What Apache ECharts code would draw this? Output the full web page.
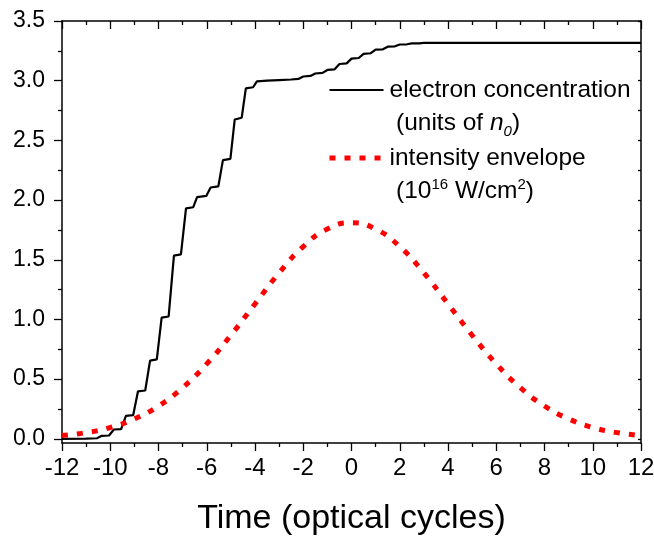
<!DOCTYPE html>
<html>
<head>
<meta charset="utf-8">
<script src="https://cdn.jsdelivr.net/npm/echarts@6/dist/echarts.min.js"></script>
<style>html,body{margin:0;padding:0;background:#fff}#c{width:654px;height:537px}</style>
</head>
<body>
<div id="c"></div>
<script>
// Electron concentration (units of n0) vs time (optical cycles)
var electronT = [-12, -11, -10.55, -10.35, -10.05, -9.85, -9.55, -9.35, -9.05, -8.85, -8.55, -8.35,
  -8.07, -7.87, -7.58, -7.36, -7.07, -6.86, -6.56, -6.40, -6.02, -5.84, -5.52, -5.33, -5.02, -4.84,
  -4.55, -4.38, -4.08, -3.92, -3.5, -3.0, -2.5, -2.2, -2.0, -1.7, -1.5, -1.2, -1.0, -0.7, -0.5,
  -0.2, 0.0, 0.3, 0.5, 0.8, 1.0, 1.3, 1.5, 1.8, 2.0, 2.3, 2.5, 2.8, 3.0, 3.5, 12];
var electronV = [0, 0.002, 0.005, 0.025, 0.028, 0.078, 0.082, 0.192, 0.198, 0.398, 0.405, 0.655,
  0.665, 1.015, 1.025, 1.535, 1.545, 1.93, 1.94, 2.025, 2.035, 2.105, 2.115, 2.335, 2.345, 2.675,
  2.69, 2.935, 2.945, 2.995, 3.0, 3.005, 3.01, 3.015, 3.035, 3.04, 3.06, 3.065, 3.09, 3.095, 3.14,
  3.145, 3.185, 3.19, 3.225, 3.23, 3.26, 3.263, 3.285, 3.288, 3.303, 3.305, 3.312, 3.313, 3.316, 3.317, 3.317];
// Intensity envelope (10^16 W/cm^2)
var intensityT = [-12, -11, -10, -9, -8, -7, -6, -5, -4, -3, -2, -1, 0, 1, 2, 3, 4, 5, 6, 7, 8, 9, 10, 11, 12];
var intensityV = [0.027, 0.052, 0.095, 0.167, 0.275, 0.428, 0.628, 0.868, 1.13, 1.39, 1.61, 1.757, 1.81,
  1.757, 1.61, 1.39, 1.13, 0.868, 0.628, 0.428, 0.275, 0.167, 0.095, 0.052, 0.027];
var yMajorTicks = [0, 0.5, 1.0, 1.5, 2.0, 2.5, 3.0, 3.5];
var yMinorTicks = [0.25, 0.75, 1.25, 1.75, 2.25, 2.75, 3.25];
var yAllTicks = [0, 0.25, 0.5, 0.75, 1.0, 1.25, 1.5, 1.75, 2.0, 2.25, 2.5, 2.75, 3.0, 3.25, 3.5];
var seriesNames = ['electron concentration', 'intensity envelope'];

var FONT = '"Liberation Sans", Arial, sans-serif';
var chart = echarts.init(document.getElementById('c'), null, {renderer: 'canvas'});
var axisLine = {show: true, onZero: false, lineStyle: {color: '#000', width: 1.5}};

function pairs(t, v) { return t.map(function (x, i) { return [x, v[i]]; }); }

chart.setOption({
  animation: false,
  backgroundColor: '#fff',
  grid: {left: 62, right: 13, top: 21, bottom: 94, outerBoundsMode: 'none', containLabel: false},
  xAxis: [{
    type: 'value', min: -12, max: 12, interval: 2, position: 'bottom',
    axisLine: axisLine,
    axisTick: {show: true, length: 8, inside: false, lineStyle: {color: '#000', width: 1.3}},
    minorTick: {show: true, splitNumber: 2, length: 4, lineStyle: {color: '#000', width: 1.3}},
    splitLine: {show: false}, minorSplitLine: {show: false},
    axisLabel: {fontSize: 24, fontFamily: FONT, color: '#000', margin: 13},
    name: 'Time (optical cycles)', nameLocation: 'middle', nameGap: 59,
    nameTextStyle: {fontSize: 34, fontFamily: FONT, color: '#000'}
  }, {
    type: 'value', min: -12, max: 12, interval: 2, position: 'top',
    axisLine: axisLine,
    axisTick: {show: true, length: 8, inside: true, lineStyle: {color: '#000', width: 1.3}},
    minorTick: {show: true, splitNumber: 2, length: 4, lineStyle: {color: '#000', width: 1.3}},
    splitLine: {show: false}, minorSplitLine: {show: false},
    axisLabel: {show: false}
  }],
  yAxis: [{
    type: 'value', min: -0.035, max: 3.5, position: 'left',
    axisLine: axisLine,
    axisTick: {show: true, length: 8, inside: false, customValues: yMajorTicks, lineStyle: {color: '#000', width: 1.3}},
    splitLine: {show: false},
    axisLabel: {customValues: yMajorTicks, fontSize: 23, fontFamily: FONT, color: '#000', margin: 17,
      formatter: function (v) { return v.toFixed(1); }}
  }, {
    type: 'value', min: -0.035, max: 3.5, position: 'left',
    axisLine: {show: false, onZero: false},
    axisTick: {show: true, length: 4, inside: false, customValues: yMinorTicks, lineStyle: {color: '#000', width: 1.3}},
    splitLine: {show: false},
    axisLabel: {show: false, customValues: yMinorTicks}
  }, {
    type: 'value', min: -0.035, max: 3.5, position: 'right',
    axisLine: axisLine,
    axisTick: {show: true, length: 3, inside: true, customValues: yAllTicks, lineStyle: {color: '#000', width: 1.3}},
    splitLine: {show: false},
    axisLabel: {show: false, customValues: yAllTicks}
  }],
  legend: {
    orient: 'vertical', left: 327, top: 76, padding: 0,
    itemWidth: 54, itemHeight: 14, itemGap: 40,
    itemStyle: {opacity: 0},
    lineStyle: {width: 5},
    textStyle: {fontSize: 24.5, fontFamily: FONT, color: '#000', lineHeight: 28, padding: [0, 0, 0, 1]},
    data: [{name: seriesNames[0], lineStyle: {width: 2.2}}, {name: seriesNames[1], lineStyle: {width: 5}}]
  },
  graphic: [{
    type: 'text', left: 396, top: 111,
    style: {
      text: '(units of {it|n}{sub|0})',
      font: '24.5px ' + FONT, fill: '#000',
      rich: {
        it: {fontSize: 24.5, fontStyle: 'italic', fontFamily: FONT},
        sub: {fontSize: 15, fontStyle: 'italic', fontFamily: FONT, padding: [16, 0, 0, 0]}
      }
    }
  }, {
    type: 'text', left: 396, top: 177,
    style: {
      text: '(10{sup|16} W/cm{sup|2})',
      font: '24.5px ' + FONT, fill: '#000',
      rich: {
        sup: {fontSize: 15, fontFamily: FONT, padding: [0, 0, 14, 0]}
      }
    }
  }],
  series: [{
    name: seriesNames[0], type: 'line', xAxisIndex: 0, yAxisIndex: 0,
    data: pairs(electronT, electronV), symbol: 'none', smooth: false,
    lineStyle: {color: '#000', width: 2.2}, itemStyle: {color: '#000'}
  }, {
    name: seriesNames[1], type: 'line', xAxisIndex: 0, yAxisIndex: 0,
    data: pairs(intensityT, intensityV), symbol: 'none', smooth: true,
    lineStyle: {color: '#ff0000', width: 5, type: [6, 9], cap: 'butt'}, itemStyle: {color: '#ff0000'}
  }]
});
</script>
</body>
</html>
